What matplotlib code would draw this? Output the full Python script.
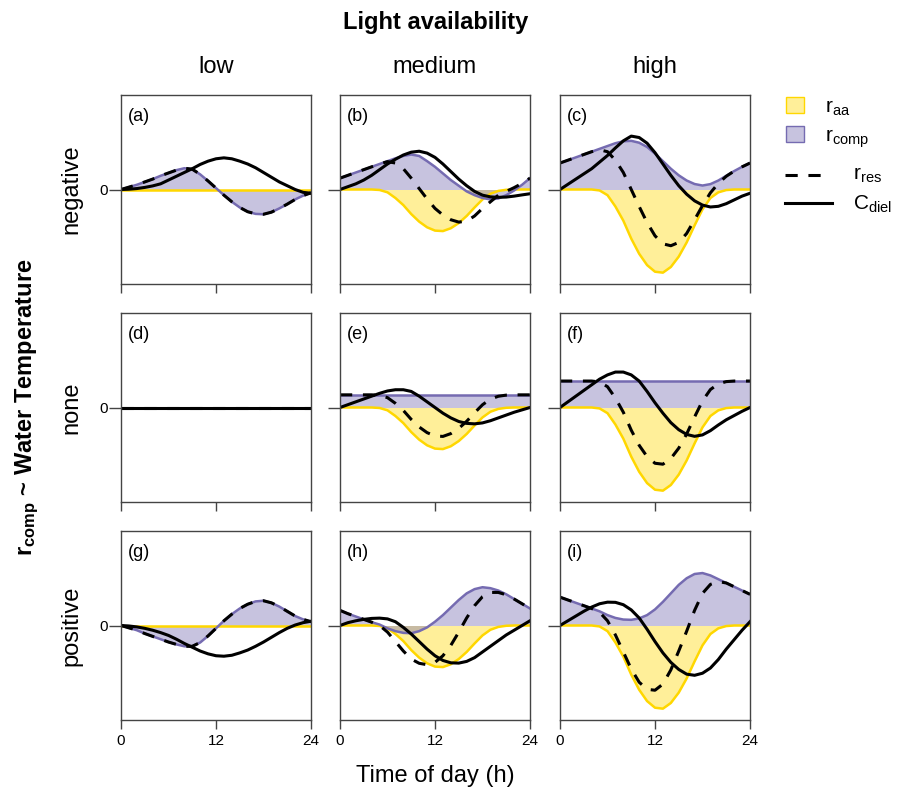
import matplotlib.pyplot as plt
from matplotlib.lines import Line2D
from matplotlib.patches import Rectangle

plt.rcParams['font.family'] = ['Liberation Sans', 'DejaVu Sans']
plt.rcParams['mathtext.default'] = 'regular'

# --- data (hourly samples, y in panel units, 0 = centre) ---
hours = list(range(25))
light_levels = ['low', 'medium', 'high']
temp_relations = ['negative', 'none', 'positive']
panel_tags = ['(a)', '(b)', '(c)', '(d)', '(e)', '(f)', '(g)', '(h)', '(i)']

# r_aa by light level
aa_low = [0.0] * 25
aa_med = [0, 0, 0, 0, 0, -0.005, -0.03, -0.09, -0.165, -0.26, -0.34, -0.40, -0.435,
          -0.44, -0.41, -0.355, -0.28, -0.19, -0.105, -0.045, -0.015, -0.003, 0, 0, 0]
aa_high = [0, 0, 0, 0, 0, -0.01, -0.06, -0.18, -0.33, -0.52, -0.68, -0.80, -0.87,
           -0.88, -0.82, -0.71, -0.56, -0.38, -0.21, -0.09, -0.03, -0.006, 0, 0, 0]

# negative row
comp_a = [0, 0.025, 0.05, 0.08, 0.11, 0.145, 0.175, 0.205, 0.225, 0.215, 0.16, 0.09, 0.015,
          -0.06, -0.13, -0.19, -0.235, -0.258, -0.262, -0.24, -0.20, -0.155, -0.105, -0.065, -0.035]
res_a = comp_a
cdiel_a = [0, 0.003, 0.01, 0.022, 0.038, 0.06, 0.10, 0.14, 0.18, 0.22, 0.265, 0.30, 0.325,
           0.335, 0.325, 0.30, 0.27, 0.23, 0.18, 0.13, 0.08, 0.04, 0.0, -0.03, -0.04]

comp_b = [0.12, 0.15, 0.18, 0.21, 0.24, 0.27, 0.30, 0.33, 0.355, 0.37, 0.355, 0.30, 0.24,
          0.17, 0.10, 0.04, -0.02, -0.06, -0.09, -0.105, -0.095, -0.06, -0.01, 0.05, 0.12]
res_b = [0.12, 0.15, 0.18, 0.21, 0.24, 0.27, 0.295, 0.28, 0.22, 0.12, 0.01, -0.10, -0.20,
         -0.27, -0.32, -0.345, -0.335, -0.28, -0.20, -0.13, -0.06, -0.02, 0.02, 0.065, 0.12]
cdiel_b = [0, 0.03, 0.06, 0.10, 0.15, 0.21, 0.27, 0.32, 0.365, 0.395, 0.405, 0.385, 0.34,
           0.27, 0.19, 0.11, 0.04, -0.02, -0.06, -0.078, -0.083, -0.08, -0.07, -0.057, -0.045]

comp_c = [0.28, 0.31, 0.34, 0.37, 0.40, 0.43, 0.46, 0.49, 0.51, 0.515, 0.495, 0.45, 0.38,
          0.30, 0.22, 0.15, 0.095, 0.058, 0.042, 0.057, 0.095, 0.145, 0.195, 0.24, 0.28]
res_c = [0.28, 0.31, 0.34, 0.37, 0.40, 0.42, 0.40, 0.31, 0.18, 0.0, -0.18, -0.35, -0.49,
         -0.575, -0.595, -0.56, -0.465, -0.32, -0.17, -0.035, 0.065, 0.14, 0.195, 0.24, 0.28]
cdiel_c = [0, 0.055, 0.11, 0.165, 0.22, 0.29, 0.36, 0.44, 0.515, 0.565, 0.55, 0.49, 0.39,
           0.27, 0.15, 0.04, -0.05, -0.12, -0.165, -0.185, -0.178, -0.15, -0.11, -0.07, -0.04]

# no relation row
comp_d = [0.0] * 25
res_d = [0.0] * 25
cdiel_d = [0.0] * 25

comp_e = [0.134] * 25
res_e = [0.134, 0.134, 0.134, 0.134, 0.134, 0.129, 0.104, 0.044, -0.031, -0.126, -0.206, -0.266, -0.301,
         -0.306, -0.276, -0.221, -0.146, -0.056, 0.029, 0.089, 0.119, 0.131, 0.134, 0.134, 0.134]
cdiel_e = [0, 0.03, 0.06, 0.09, 0.12, 0.15, 0.175, 0.188, 0.188, 0.17, 0.12, 0.06, 0.0,
           -0.06, -0.11, -0.148, -0.168, -0.173, -0.163, -0.14, -0.11, -0.08, -0.05, -0.025, 0]

comp_f = [0.28] * 25
res_f = [0.28, 0.28, 0.28, 0.28, 0.28, 0.27, 0.22, 0.10, -0.05, -0.24, -0.40, -0.52, -0.59,
         -0.60, -0.54, -0.43, -0.28, -0.10, 0.07, 0.19, 0.25, 0.274, 0.28, 0.28, 0.28]
cdiel_f = [0, 0.06, 0.12, 0.18, 0.24, 0.30, 0.345, 0.375, 0.375, 0.345, 0.28, 0.17, 0.05,
           -0.06, -0.16, -0.235, -0.285, -0.305, -0.29, -0.245, -0.185, -0.13, -0.085, -0.04, 0]

# positive row
comp_g = [0, -0.025, -0.05, -0.085, -0.115, -0.145, -0.175, -0.2, -0.22, -0.22, -0.18, -0.11, -0.03,
          0.05, 0.12, 0.18, 0.225, 0.255, 0.262, 0.24, 0.20, 0.15, 0.10, 0.065, 0.04]
res_g = comp_g
cdiel_g = [0, -0.005, -0.015, -0.03, -0.05, -0.075, -0.105, -0.145, -0.19, -0.23, -0.27, -0.30, -0.32,
           -0.325, -0.315, -0.29, -0.26, -0.22, -0.175, -0.125, -0.075, -0.03, 0.005, 0.03, 0.045]

comp_h = [0.16, 0.125, 0.095, 0.065, 0.035, 0.01, -0.03, -0.06, -0.078, -0.082, -0.06, -0.02, 0.04,
          0.11, 0.19, 0.27, 0.34, 0.385, 0.405, 0.395, 0.37, 0.33, 0.28, 0.23, 0.18]
res_h = [0.16, 0.125, 0.095, 0.065, 0.035, 0.0, -0.07, -0.17, -0.27, -0.355, -0.40, -0.415, -0.39,
         -0.32, -0.21, -0.07, 0.08, 0.21, 0.305, 0.35, 0.35, 0.325, 0.28, 0.23, 0.18]
cdiel_h = [0, 0.03, 0.05, 0.065, 0.075, 0.078, 0.07, 0.04, -0.02, -0.09, -0.17, -0.25, -0.32,
           -0.37, -0.395, -0.398, -0.38, -0.34, -0.28, -0.22, -0.16, -0.10, -0.05, 0.0, 0.05]

comp_i = [0.30, 0.27, 0.24, 0.21, 0.18, 0.15, 0.11, 0.08, 0.063, 0.06, 0.075, 0.11, 0.17,
          0.25, 0.34, 0.43, 0.50, 0.545, 0.555, 0.53, 0.49, 0.45, 0.41, 0.37, 0.33]
res_i = [0.30, 0.27, 0.24, 0.21, 0.18, 0.14, 0.05, -0.10, -0.28, -0.46, -0.60, -0.675, -0.685,
         -0.62, -0.47, -0.27, -0.06, 0.16, 0.34, 0.435, 0.465, 0.45, 0.41, 0.37, 0.33]
cdiel_i = [0, 0.05, 0.10, 0.15, 0.195, 0.23, 0.247, 0.245, 0.22, 0.165, 0.08, -0.04, -0.17,
           -0.29, -0.39, -0.465, -0.515, -0.527, -0.505, -0.45, -0.36, -0.25, -0.15, -0.05, 0.04]

aa_by_light = [aa_low, aa_med, aa_high]
panels = [
    [(comp_a, res_a, cdiel_a), (comp_b, res_b, cdiel_b), (comp_c, res_c, cdiel_c)],
    [(comp_d, res_d, cdiel_d), (comp_e, res_e, cdiel_e), (comp_f, res_f, cdiel_f)],
    [(comp_g, res_g, cdiel_g), (comp_h, res_h, cdiel_h), (comp_i, res_i, cdiel_i)],
]

YELLOW = '#FFD700'
PURPLE = '#756BB1'
FRAME = '#444444'

W, H = 898, 791
fig = plt.figure(figsize=(W / 100, H / 100), dpi=100)

col_left = [121, 340, 560]
row_top = [95, 313, 531]
pw, ph = 190, 189

for i, row in enumerate(panels):
    for j, (comp, res, cdiel) in enumerate(row):
        ax = fig.add_axes([col_left[j] / W, 1 - (row_top[i] + ph) / H, pw / W, ph / H])
        aa = aa_by_light[j]
        ax.fill_between(hours, 0, aa, color=YELLOW, alpha=0.4, lw=0)
        ax.fill_between(hours, 0, comp, color=PURPLE, alpha=0.4, lw=0)
        ax.plot(hours, aa, color=YELLOW, lw=1.8)
        ax.plot(hours, comp, color=PURPLE, lw=1.8)
        ax.plot(hours, res, color='black', lw=2.2, dashes=(4, 3.5))
        ax.plot(hours, cdiel, color='black', lw=2.2)

        ax.set_xlim(0, 24)
        ax.set_ylim(-1, 1)
        ax.set_xticks([0, 12, 24])
        ax.set_yticks([0])
        ax.tick_params(axis='x', length=6.5, width=1, color=FRAME, pad=3.5,
                       labelsize=11, labelbottom=(i == 2))
        ax.tick_params(axis='y', length=8.5, width=1, color=FRAME, pad=1,
                       labelsize=11, labelleft=(j == 0))
        for sp in ax.spines.values():
            sp.set_color(FRAME)
            sp.set_linewidth(1)
        ax.text(0.035, 0.93, panel_tags[i * 3 + j], transform=ax.transAxes,
                ha='left', va='top', fontsize=13)

# column / row headings
col_centres = [216, 435, 655]
for j, lab in enumerate(light_levels):
    fig.text(col_centres[j] / W, 1 - 73 / H, lab, ha='center', va='baseline', fontsize=17)
for i, lab in enumerate(temp_relations):
    fig.text(71 / W, 1 - (row_top[i] + ph / 2) / H, lab, rotation=90,
             ha='center', va='center', fontsize=17)

fig.text(436 / W, 1 - 29 / H, 'Light availability', ha='center', va='baseline',
         fontsize=17, fontweight='bold')
fig.text(27 / W, 1 - 407 / H, r'r$_{comp}$ ~ Water Temperature', rotation=90,
         ha='center', va='center', fontsize=17, fontweight='bold')
fig.text(435 / W, 1 - 782 / H, 'Time of day (h)', ha='center', va='baseline', fontsize=17)

# --- legend ---
fig.add_artist(Rectangle((786 / W, 1 - 113 / H), 18 / W, 16 / H, transform=fig.transFigure,
                         facecolor=(1, 0.843, 0, 0.4), edgecolor=YELLOW, lw=1))
fig.add_artist(Rectangle((786 / W, 1 - 142 / H), 18 / W, 16 / H, transform=fig.transFigure,
                         facecolor=(0.459, 0.420, 0.694, 0.4), edgecolor=PURPLE, lw=1))
fig.text(825 / W, 1 - 113 / H, r'r$_{aa}$', fontsize=15, va='baseline')
fig.text(825 / W, 1 - 142 / H, r'r$_{comp}$', fontsize=15, va='baseline')
fig.add_artist(Line2D([785 / W, 822 / W], [1 - 175 / H, 1 - 175 / H], transform=fig.transFigure,
                      color='black', lw=2.2, dashes=(4, 3.5)))
fig.add_artist(Line2D([785 / W, 832 / W], [1 - 203 / H, 1 - 203 / H], transform=fig.transFigure,
                      color='black', lw=2.2))
fig.text(853 / W, 1 - 180 / H, r'r$_{res}$', fontsize=15, va='baseline')
fig.text(853 / W, 1 - 210 / H, r'C$_{diel}$', fontsize=15, va='baseline')

fig.savefig('out.png', dpi=100)
